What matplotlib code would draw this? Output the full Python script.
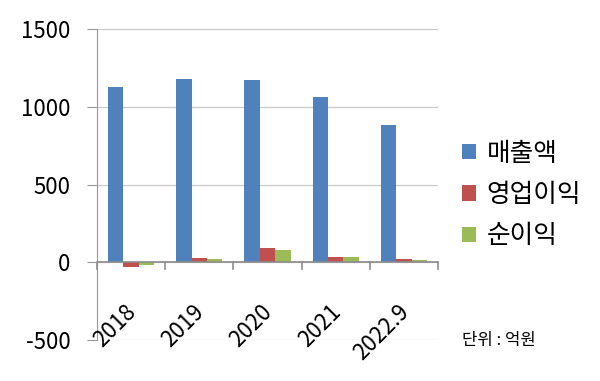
import numpy as np
import matplotlib
matplotlib.use("Agg")
import matplotlib.pyplot as plt

plt.rcParams['font.family'] = ['Noto Sans CJK KR', 'DejaVu Sans']
plt.rcParams['axes.unicode_minus'] = False

years = ["2018", "2019", "2020", "2021", "2022.9"]
sales = [1127, 1178, 1172, 1062, 882]
op_profit = [-28, 30, 94, 34, 19]
net_profit = [-19, 21, 80, 32, 15]
series_names = ["매출액", "영업이익", "순이익"]
colors = ["#4f81bd", "#c0504d", "#9bbb59"]

fig = plt.figure(figsize=(6, 3.81), dpi=100)
ax = fig.add_axes([97/600, 1-340/381, 341/600, 311/381])

x = np.arange(len(years))
w = 0.225
for i, (vals, name, c) in enumerate(zip([sales, op_profit, net_profit], series_names, colors)):
    ax.bar(x + (i - 1) * w, vals, w, color=c, label=name, zorder=3)

ax.set_xlim(-0.5, len(years) - 0.5)
ax.set_ylim(-500, 1500)
ax.set_yticks([-500, 0, 500, 1000, 1500])
ax.tick_params(axis='y', length=7, color='#999999', labelsize=16, pad=12)
ax.grid(axis='y', color='#c8c8c8', lw=0.9, zorder=0)
for s in ['top', 'right', 'bottom']:
    ax.spines[s].set_visible(False)
ax.spines['left'].set_color('#999999')

# zero line with category-boundary ticks
ax.axhline(0, color='#8c8c8c', lw=1.2, zorder=4)
for b in np.arange(len(years) + 1) - 0.5:
    ax.plot([b, b], [0, -45], color='#8c8c8c', lw=1.2, zorder=4, clip_on=False)

ax.set_xticks([])
for xi, lab in zip(x, years):
    ax.text(xi - 0.1, -245, lab, rotation=45, ha='right', va='top',
            fontsize=16, rotation_mode='anchor', zorder=5)

ax.legend(loc='center left', bbox_to_anchor=(462/600, 1-195/381),
          bbox_transform=fig.transFigure, frameon=False,
          fontsize=18.5, handlelength=0.55, handleheight=0.55, labelspacing=0.6,
          handletextpad=0.4, borderpad=0, borderaxespad=0)
fig.text(462/600, 1-340/381, "단위 : 억원", fontsize=12, va='center')

fig.savefig("out.png", dpi=100)
